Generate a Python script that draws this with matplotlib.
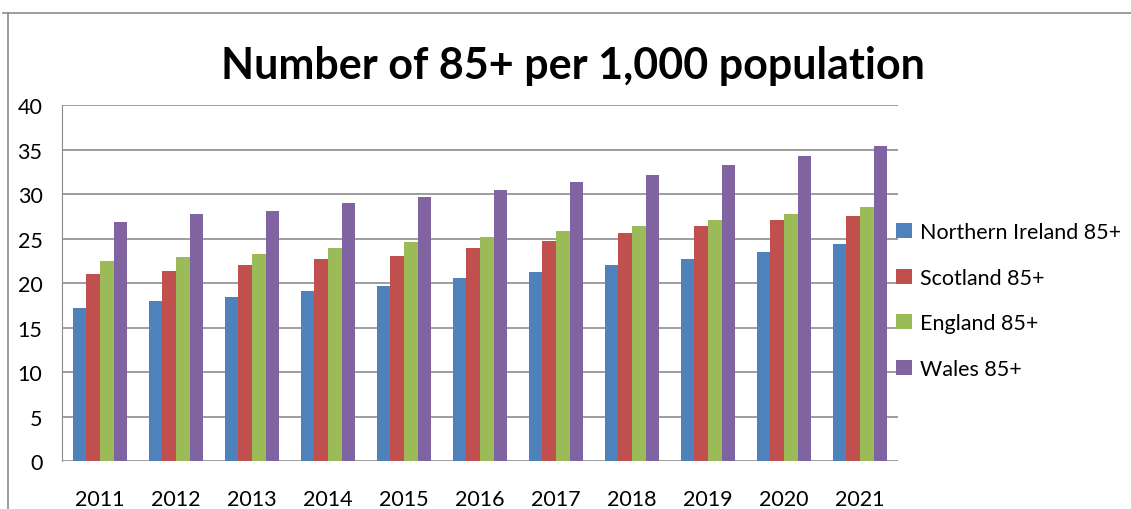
import numpy as np
import matplotlib.pyplot as plt
from matplotlib.lines import Line2D

plt.rcParams['font.family'] = ['Lato', 'DejaVu Sans']

years = ['2011', '2012', '2013', '2014', '2015', '2016', '2017', '2018', '2019', '2020', '2021']
northern_ireland = [17.2, 18.0, 18.4, 19.1, 19.7, 20.6, 21.2, 22.0, 22.7, 23.5, 24.4]
scotland = [21.0, 21.3, 22.0, 22.7, 23.0, 23.9, 24.7, 25.6, 26.4, 27.1, 27.5]
england = [22.5, 22.9, 23.3, 23.9, 24.6, 25.2, 25.8, 26.4, 27.1, 27.8, 28.5]
wales = [26.9, 27.8, 28.1, 29.0, 29.7, 30.5, 31.4, 32.1, 33.3, 34.3, 35.4]

series = [
    ('Northern Ireland 85+', northern_ireland, '#4F81BD'),
    ('Scotland 85+', scotland, '#C0504D'),
    ('England 85+', england, '#9BBB59'),
    ('Wales 85+', wales, '#8064A2'),
]

fig = plt.figure(figsize=(11.31, 5.10), dpi=100)
ax = fig.add_axes([0.0548, 0.0941, 0.7392, 0.698])

x = np.arange(len(years))
w = 0.18
for i, (name, vals, col) in enumerate(series):
    ax.bar(x + (i - 1.5) * w, vals, w, color=col, label=name, zorder=3)

ax.set_xlim(-0.5, len(years) - 0.5)
ax.set_ylim(0, 40)
ax.set_yticks(range(0, 41, 5))
ax.set_xticks(x)
ax.set_xticklabels(years)
ax.yaxis.grid(True, color='#8c8c8c', linewidth=1.2, zorder=0)
for s in ['top', 'right', 'bottom']:
    ax.spines[s].set_visible(False)
ax.spines['left'].set_color('#8c8c8c')
ax.tick_params(axis='both', length=0, labelsize=15.5)
ax.tick_params(axis='y', pad=14)
ax.tick_params(axis='x', pad=20)

fig.suptitle('Number of 85+ per 1,000 population', x=0.507, y=0.91,
             fontsize=31, fontweight='bold')

ax.legend(loc='upper left', bbox_to_anchor=(0.785, 0.58), bbox_transform=fig.transFigure,
          frameon=False, fontsize=15.5, handlelength=0.7, handleheight=0.7,
          handletextpad=0.4, labelspacing=1.2, borderaxespad=0)

# chart border
fig.add_artist(Line2D([8 / 1131, 8 / 1131], [0, 1 - 14 / 510], color='#8c8c8c', lw=1.2))
fig.add_artist(Line2D([3 / 1131, 1], [1 - 14 / 510, 1 - 14 / 510], color='#8c8c8c', lw=1.2))

fig.savefig('out.png', dpi=100)
